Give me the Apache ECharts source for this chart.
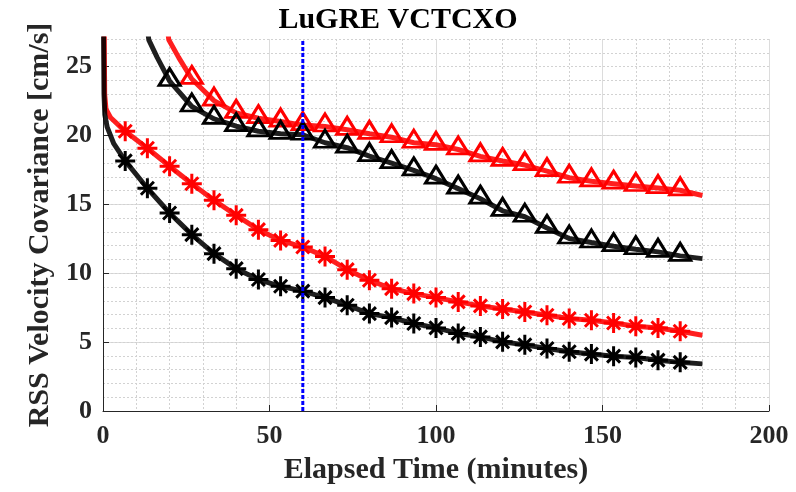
<!DOCTYPE html>
<html>
<head>
<meta charset="utf-8">
<script src="https://cdn.jsdelivr.net/npm/echarts@6/dist/echarts.min.js"></script>
<style>html,body{margin:0;padding:0;background:#fff}#c{width:796px;height:492px}</style>
</head>
<body>
<div id="c"></div>
<script>
// ---- data ----
const titleText = 'LuGRE VCTCXO';
const xName = 'Elapsed Time (minutes)';
const yName = 'RSS Velocity Covariance [cm/s]';
const xTicks = [0, 50, 100, 150, 200];
const yTicks = [0, 5, 10, 15, 20, 25];
const markerLineX = 60;

// marker times (minutes)
const markerTimes = [6.67, 13.33, 20, 26.67, 33.33, 40, 46.67, 53.33, 60, 66.67, 73.33, 80, 86.67,
  93.33, 100, 106.67, 113.33, 120, 126.67, 133.33, 140, 146.67, 153.33, 160, 166.67, 173.33];

// red asterisk series (all marker times)
const redStar = [20.3, 19.07, 17.76, 16.49, 15.3, 14.2, 13.16, 12.38, 11.9, 11.22, 10.26, 9.49, 8.88,
  8.52, 8.23, 7.92, 7.63, 7.4, 7.19, 6.95, 6.71, 6.59, 6.39, 6.15, 6.03, 5.79];
const redStarHeadT = [0.35, 0.5, 0.9, 2.25];
const redStarHeadV = [28, 23, 21.9, 21.3];
const redStarEnd = [180, 5.5];

// black asterisk series
const blackStar = [18.15, 16.17, 14.37, 12.8, 11.42, 10.33, 9.54, 9.05, 8.7, 8.23, 7.68, 7.07, 6.78,
  6.35, 6.03, 5.63, 5.38, 5.02, 4.8, 4.54, 4.3, 4.13, 3.98, 3.89, 3.69, 3.53];
const blackStarHeadT = [0.15, 0.3, 0.55, 1.26, 3.24];
const blackStarHeadV = [28, 23, 21.5, 20.6, 19.4];
const blackStarEnd = [180, 3.42];

// black triangle series (markers from 3rd marker time)
const blackTri = [23.95, 22.1, 21.2, 20.67, 20.3, 20.12, 20.05, 19.47, 19.11, 18.5, 17.99, 17.46,
  16.86, 16.14, 15.41, 14.53, 14.1, 13.29, 12.52, 12.23, 11.96, 11.74, 11.55, 11.26];
const blackTriStart = 2;
const blackTriHeadT = [13.0, 13.75, 16.3];
const blackTriHeadV = [28.5, 26.94, 25.65];
const blackTriEnd = [180, 11.06];

// red triangle series (markers from 4th marker time)
const redTri = [24.1, 22.53, 21.64, 21.25, 21.01, 20.75, 20.65, 20.41, 20.12, 19.87, 19.47, 19.32,
  18.98, 18.48, 18.15, 17.85, 17.41, 16.93, 16.67, 16.5, 16.33, 16.18, 16.02];
const redTriStart = 3;
const redTriHeadT = [19.0, 19.75, 22.75];
const redTriHeadV = [28.5, 26.94, 25.65];
const redTriEnd = [180, 15.64];

// ---- build ----
function markers(vals, start) { return vals.map((v, i) => [markerTimes[start + i], v]); }
function lineData(headT, headV, vals, start, end) {
  return headT.map((t, i) => [t, headV[i]]).concat(markers(vals, start)).concat([end]);
}

const FONT = "'Liberation Serif','Times New Roman',serif";
const starPath = 'path://M8.5,0L11.5,0L11.5,20L8.5,20ZM0,8.5L20,8.5L20,11.5L0,11.5ZM4.56,2.44L17.56,15.44L15.44,17.56L2.44,4.56ZM2.44,15.44L15.44,2.44L17.56,4.56L4.56,17.56Z';

function lineSeries(data, color) {
  return { type: 'line', data: data, showSymbol: false, symbol: 'none', clip: true,
    lineStyle: { color: color, width: 5, opacity: 0.88 }, z: 2, silent: true };
}
function starSeries(data, color) {
  return { type: 'scatter', data: data, symbol: starPath, symbolSize: 20,
    itemStyle: { color: color, opacity: 1 }, z: 3 };
}
function triSeries(data, color) {
  return { type: 'scatter', data: data, symbol: 'triangle', symbolSize: [21, 17], symbolOffset: [0, -4],
    itemStyle: { color: 'rgba(0,0,0,0)', borderColor: color, borderWidth: 3, opacity: 1 }, z: 3 };
}

const chart = echarts.init(document.getElementById('c'), null, { renderer: 'canvas' });
chart.setOption({
  animation: false,
  backgroundColor: '#ffffff',
  title: { text: titleText, left: 'center', top: 0, textStyle: { fontFamily: FONT, fontWeight: 'bold', fontSize: 30, color: '#000' } },
  grid: { left: 103, right: 27, top: 39, bottom: 81, containLabel: false },
  xAxis: {
    type: 'value', min: xTicks[0], max: xTicks[xTicks.length - 1], interval: 50,
    name: xName, nameLocation: 'middle', nameGap: 44,
    nameTextStyle: { fontFamily: FONT, fontWeight: 'bold', fontSize: 30, color: '#262626' },
    axisLine: { show: true, lineStyle: { color: '#262626', width: 1 } },
    axisTick: { show: true, inside: true, length: 6, lineStyle: { color: '#262626' } },
    axisLabel: { margin: 12, fontFamily: FONT, fontWeight: 'bold', fontSize: 26, color: '#262626' },
    splitLine: { show: true, lineStyle: { color: '#dcdcdc', width: 1 } },
    minorTick: { show: false, splitNumber: 5 },
    minorSplitLine: { show: true, lineStyle: { color: '#d2d2d2', width: 1, type: [2, 2] } }
  },
  yAxis: [{
    type: 'value', min: 0, max: 27, interval: 5,
    name: yName, nameLocation: 'middle', nameGap: 46,
    nameTextStyle: { fontFamily: FONT, fontWeight: 'bold', fontSize: 30, color: '#262626' },
    axisLine: { show: true, lineStyle: { color: '#262626', width: 1 } },
    axisTick: { show: true, inside: true, length: 6, lineStyle: { color: '#262626' }, customValues: yTicks },
    axisLabel: { margin: 11, fontFamily: FONT, fontWeight: 'bold', fontSize: 26, color: '#262626', customValues: yTicks },
    splitLine: { show: true, showMaxLine: false, lineStyle: { color: '#dcdcdc', width: 1 } }
  }, {
    type: 'value', min: 0, max: 27, interval: 1, position: 'left',
    axisLine: { show: false }, axisTick: { show: false }, axisLabel: { show: false },
    splitLine: { show: true, lineStyle: { color: '#d2d2d2', width: 1, type: [2, 2] } }
  }],
  series: [
    lineSeries(lineData(redTriHeadT, redTriHeadV, redTri, redTriStart, redTriEnd), '#ff0000'),
    triSeries(markers(redTri, redTriStart), '#ff0000'),
    lineSeries(lineData(blackTriHeadT, blackTriHeadV, blackTri, blackTriStart, blackTriEnd), '#000000'),
    triSeries(markers(blackTri, blackTriStart), '#000000'),
    lineSeries(lineData(redStarHeadT, redStarHeadV, redStar, 0, redStarEnd), '#ff0000'),
    starSeries(markers(redStar, 0), '#ff0000'),
    lineSeries(lineData(blackStarHeadT, blackStarHeadV, blackStar, 0, blackStarEnd), '#000000'),
    starSeries(markers(blackStar, 0), '#000000'),
    { type: 'line', data: [[markerLineX, 0], [markerLineX, 27]], showSymbol: false, symbol: 'none',
      lineStyle: { color: '#0000ff', width: 3, type: [4, 2] }, z: 5 }
  ]
});
</script>
</body>
</html>
